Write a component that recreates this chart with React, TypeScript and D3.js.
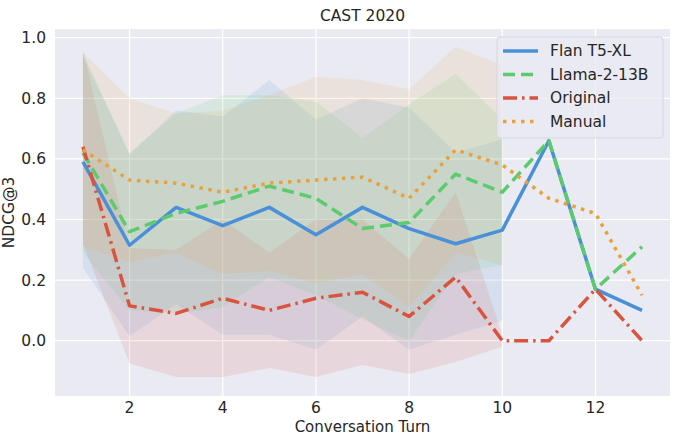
import * as d3 from 'd3';
import React from 'react';

const turns = [1, 2, 3, 4, 5, 6, 7, 8, 9, 10, 11, 12, 13];
const bandTurns = [1, 2, 3, 4, 5, 6, 7, 8, 9, 10];

const flanMean = [0.59, 0.315, 0.44, 0.38, 0.44, 0.35, 0.44, 0.37, 0.32, 0.365, 0.66, 0.17, 0.1];
const llamaMean = [0.62, 0.36, 0.42, 0.46, 0.51, 0.47, 0.37, 0.39, 0.55, 0.49, 0.66, 0.17, 0.31];
const originalMean = [0.64, 0.115, 0.09, 0.14, 0.1, 0.14, 0.16, 0.08, 0.21, 0.0, 0.0, 0.17, 0.0];
const manualMean = [0.63, 0.53, 0.52, 0.49, 0.52, 0.53, 0.54, 0.47, 0.63, 0.58, 0.47, 0.42, 0.15];

// std for turns 1..10 (later turns have a single sample)
const flanStd = [0.35, 0.3, 0.32, 0.36, 0.42, 0.38, 0.36, 0.4, 0.3, 0.3];
const llamaStd = [0.33, 0.26, 0.33, 0.35, 0.3, 0.32, 0.3, 0.39, 0.33, 0.24];
const originalStd = [0.32, 0.19, 0.21, 0.26, 0.19, 0.26, 0.24, 0.19, 0.28, 0.02];
const manualStd = [0.32, 0.27, 0.23, 0.27, 0.29, 0.34, 0.32, 0.36, 0.34, 0.33];

const yTicks = [0.0, 0.2, 0.4, 0.6, 0.8, 1.0];
const xTicks = [2, 4, 6, 8, 10, 12];

const series = [
  { name: 'Flan T5-XL', mean: flanMean, std: flanStd, color: '#4a90d9', dash: 'none' },
  { name: 'Llama-2-13B', mean: llamaMean, std: llamaStd, color: '#5ccb6e', dash: '12 6' },
  { name: 'Original', mean: originalMean, std: originalStd, color: '#d9543f', dash: '14 5 2.5 5' },
  { name: 'Manual', mean: manualMean, std: manualStd, color: '#e9a23b', dash: '3.5 5.5' },
];

const W = 680;
const H = 434;
const left = 55;
const right = 670;
const top = 29;
const bottom = 396;

export default function App() {
  const x = d3.scaleLinear().domain([0.4, 13.6]).range([left, right]);
  const y = d3.scaleLinear().domain([-0.1825, 1.0287]).range([bottom, top]);

  const line = d3
    .line<number>()
    .x((_, i) => x(turns[i]))
    .y((d) => y(d));

  const font = 'DejaVu Sans, sans-serif';
  const ink = '#262626';

  return (
    <svg width={W} height={H} style={{ position: 'absolute', left: 0, top: 0 }} fontFamily={font}>
      <rect x={0} y={0} width={W} height={H} fill="#ffffff" />
      <rect x={left} y={top} width={right - left} height={bottom - top} fill="#eaeaf2" />

      {/* grid */}
      {yTicks.map((t) => (
        <line key={'gy' + t} x1={left} x2={right} y1={y(t)} y2={y(t)} stroke="#ffffff" strokeWidth={1.2} />
      ))}
      {xTicks.map((t) => (
        <line key={'gx' + t} x1={x(t)} x2={x(t)} y1={top} y2={bottom} stroke="#ffffff" strokeWidth={1.2} />
      ))}

      {/* std bands */}
      {series.map((s) => {
        const area = d3
          .area<number>()
          .x((_, i) => x(bandTurns[i]))
          .y0((d, i) => y(s.mean[i] - d))
          .y1((d, i) => y(s.mean[i] + d));
        return <path key={'b' + s.name} d={area(s.std) ?? ''} fill={s.color} fillOpacity={0.12} />;
      })}

      {/* mean lines */}
      {series.map((s) => (
        <path
          key={'l' + s.name}
          d={line(s.mean) ?? ''}
          fill="none"
          stroke={s.color}
          strokeWidth={3.5}
          strokeDasharray={s.dash}
          strokeLinejoin="round"
        />
      ))}

      {/* ticks */}
      {yTicks.map((t) => (
        <text key={'ty' + t} x={46} y={y(t)} dy="0.35em" textAnchor="end" fontSize={15.5} fill={ink}>
          {d3.format('.1f')(t)}
        </text>
      ))}
      {xTicks.map((t) => (
        <text key={'tx' + t} x={x(t)} y={413} textAnchor="middle" fontSize={15.5} fill={ink}>
          {t}
        </text>
      ))}

      <text x={(left + right) / 2} y={21} textAnchor="middle" fontSize={15.5} fill={ink}>
        CAST 2020
      </text>
      <text x={(left + right) / 2} y={432} textAnchor="middle" fontSize={15} fill={ink}>
        Conversation Turn
      </text>
      <text
        transform={`translate(14, ${(top + bottom) / 2}) rotate(-90)`}
        textAnchor="middle"
        fontSize={15.5}
        fill={ink}
      >
        NDCG@3
      </text>

      {/* legend */}
      <rect x={497} y={37} width={166} height={101} rx={3} fill="#eaeaf2" fillOpacity={0.8} stroke="#d6d6e0" />
      {series.map((s, i) => {
        const ly = 51 + i * 23.5;
        return (
          <g key={'lg' + s.name}>
            <line x1={503} x2={538} y1={ly} y2={ly} stroke={s.color} strokeWidth={3.5} strokeDasharray={s.dash} />
            <text x={550} y={ly} dy="0.35em" fontSize={15.5} fill={ink}>
              {s.name}
            </text>
          </g>
        );
      })}
    </svg>
  );
}
